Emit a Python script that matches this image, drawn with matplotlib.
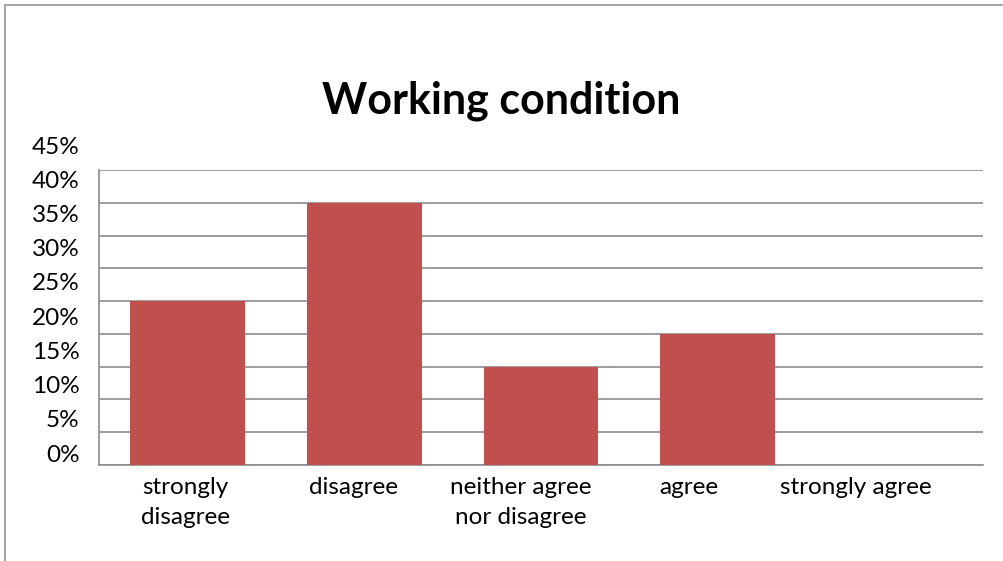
import matplotlib.pyplot as plt
from matplotlib.lines import Line2D

categories = ["strongly\ndisagree", "disagree", "neither agree\nnor disagree", "agree", "strongly agree"]
shares = [0.25, 0.40, 0.15, 0.20, 0.0]
pct_ticks = [0.0, 0.05, 0.10, 0.15, 0.20, 0.25, 0.30, 0.35, 0.40, 0.45]
tick_labels = ["0%", "5%", "10%", "15%", "20%", "25%", "30%", "35%", "40%", "45%"]

W, H = 1004, 561
BAR = "#C0504D"
GRID = "#8c8c8c"
plt.rcParams["font.family"] = ["Lato", "DejaVu Sans"]

fig = plt.figure(figsize=(W / 100, H / 100), dpi=100)
fig.patch.set_facecolor("white")

# outer chart frame (left and top edges only)
fig.add_artist(Line2D([5 / W, 5 / W], [0, 1 - 5 / H], transform=fig.transFigure, color="#a6a6a6", lw=1.5))
fig.add_artist(Line2D([5 / W, 1], [1 - 5 / H, 1 - 5 / H], transform=fig.transFigure, color="#a6a6a6", lw=1.5))

left, right, top, bottom = 99, 983, 170, 465
ax = fig.add_axes([left / W, 1 - bottom / H, (right - left) / W, (bottom - top) / H])
x = list(range(len(categories)))
ax.bar(x, shares, width=0.65, color=BAR, zorder=3)
ax.set_xlim(-0.5, len(categories) - 0.5)
ax.set_ylim(0, 0.45)
ax.set_yticks(pct_ticks)
ax.yaxis.grid(True, color=GRID, lw=1.2, zorder=0)
ax.tick_params(axis="both", length=0, labelleft=False, labelbottom=False)
for s in ["top", "right"]:
    ax.spines[s].set_visible(False)
for s in ["left", "bottom"]:
    ax.spines[s].set_color(GRID)
    ax.spines[s].set_linewidth(1.2)

# y labels on their own, slightly stretched scale
lab_bottom, lab_top = 453, 145
lax = fig.add_axes([left / W, 1 - lab_bottom / H, 0.001, (lab_bottom - lab_top) / H])
lax.set_ylim(0, 0.45)
lax.set_yticks(pct_ticks)
lax.set_yticklabels(tick_labels, fontsize=17.5)
lax.tick_params(axis="y", length=0, pad=14)
lax.set_xticks([])
for s in lax.spines.values():
    s.set_visible(False)
lax.patch.set_alpha(0)

# category labels on a slightly narrower band than the bars
cx_left, cx_right = 102, 940
cax = fig.add_axes([cx_left / W, 1 - bottom / H, (cx_right - cx_left) / W, 0.001])
cax.set_xlim(-0.5, len(categories) - 0.5)
cax.set_xticks(x)
cax.set_xticklabels(categories, fontsize=17.5, linespacing=1.5, va="top")
cax.tick_params(axis="x", length=0, pad=9)
cax.set_yticks([])
for s in cax.spines.values():
    s.set_visible(False)
cax.patch.set_alpha(0)

fig.text(501 / W, 1 - 101 / H, "Working condition", ha="center", va="center",
         fontsize=31, fontweight="bold")

fig.savefig("out.png", dpi=100)
